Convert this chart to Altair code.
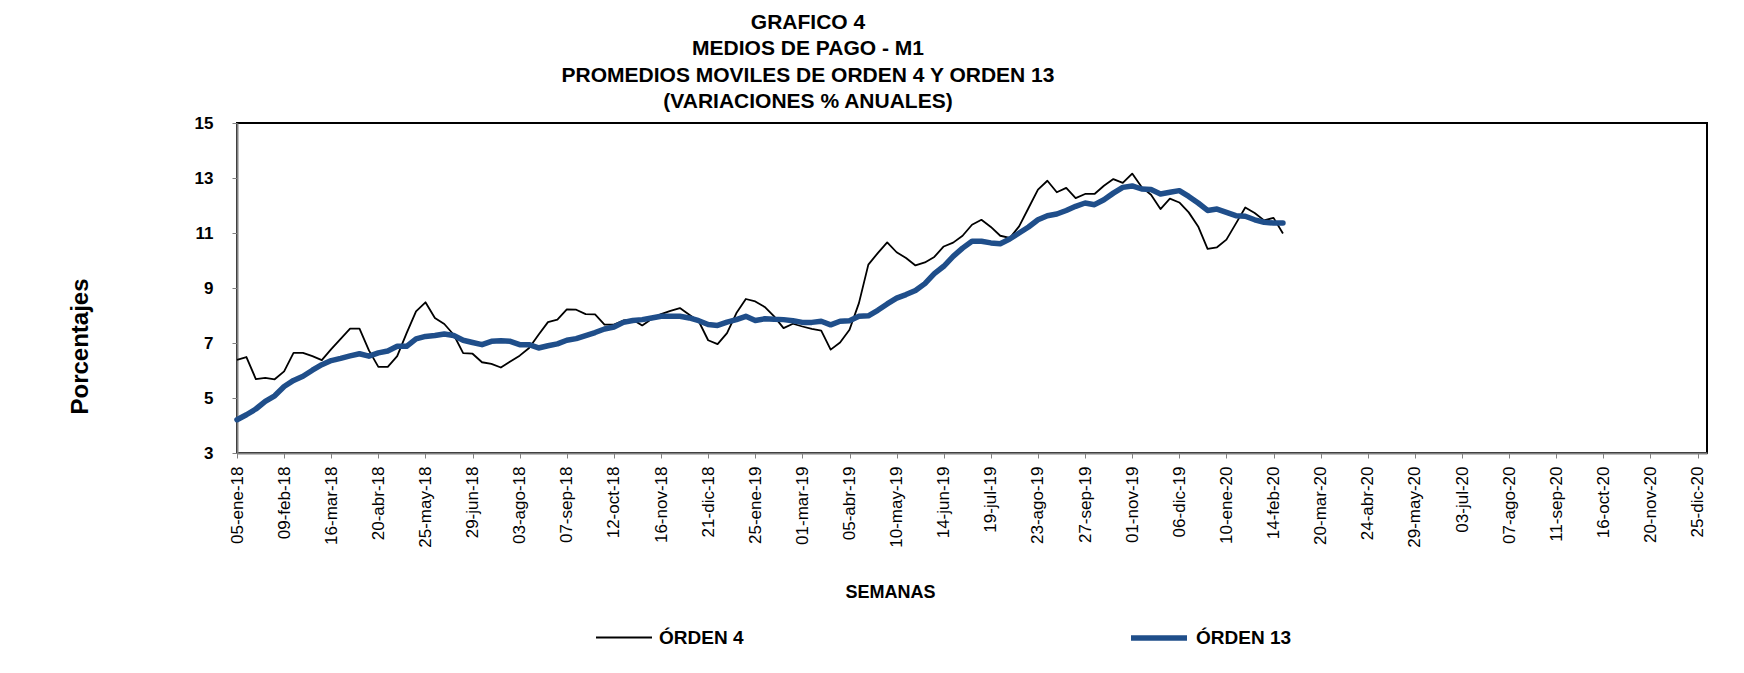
import altair as alt
import pandas as pd

# ---- data (weekly, starting 05-ene-18) ----
series_names = ["ÓRDEN 4", "ÓRDEN 13"]

orden4 = [6.39, 6.49, 5.69, 5.73, 5.68, 5.97, 6.64, 6.64, 6.52, 6.38,
          6.78, 7.15, 7.52, 7.52, 6.73, 6.13, 6.13, 6.52, 7.36, 8.15,
          8.48, 7.91, 7.69, 7.30, 6.63, 6.61, 6.30, 6.24, 6.11, 6.33,
          6.54, 6.82, 7.30, 7.76, 7.85, 8.22, 8.21, 8.05, 8.04, 7.67,
          7.67, 7.82, 7.85, 7.64, 7.87, 8.05, 8.17, 8.27, 8.03, 7.79,
          7.10, 6.96, 7.36, 8.09, 8.60, 8.51, 8.31, 7.97, 7.54, 7.70,
          7.60, 7.51, 7.45, 6.76, 7.02, 7.48, 8.45, 9.85, 10.27, 10.66,
          10.30, 10.09, 9.82, 9.93, 10.13, 10.51, 10.65, 10.90, 11.30, 11.48,
          11.22, 10.90, 10.82, 11.24, 11.91, 12.58, 12.90, 12.48, 12.64, 12.27,
          12.42, 12.42, 12.72, 12.96, 12.82, 13.16, 12.67, 12.39, 11.87, 12.25,
          12.11, 11.75, 11.24, 10.42, 10.48, 10.76, 11.34, 11.93, 11.73, 11.46,
          11.55, 10.98]

orden13 = [4.21, 4.39, 4.60, 4.88, 5.08, 5.42, 5.64, 5.79, 6.01, 6.21,
           6.36, 6.44, 6.53, 6.61, 6.52, 6.64, 6.71, 6.88, 6.88, 7.15,
           7.24, 7.27, 7.33, 7.27, 7.10, 7.02, 6.94, 7.06, 7.08, 7.06,
           6.94, 6.94, 6.82, 6.90, 6.97, 7.10, 7.16, 7.27, 7.38, 7.51,
           7.58, 7.75, 7.82, 7.85, 7.91, 7.97, 7.97, 7.97, 7.91, 7.81,
           7.67, 7.64, 7.76, 7.85, 7.97, 7.82, 7.88, 7.86, 7.85, 7.81,
           7.75, 7.75, 7.79, 7.66, 7.79, 7.81, 7.97, 7.99, 8.19, 8.42,
           8.63, 8.76, 8.91, 9.16, 9.52, 9.79, 10.15, 10.45, 10.70, 10.70,
           10.64, 10.61, 10.78, 11.00, 11.22, 11.48, 11.63, 11.69, 11.82, 11.97,
           12.09, 12.03, 12.21, 12.45, 12.66, 12.71, 12.60, 12.58, 12.42, 12.48,
           12.54, 12.33, 12.09, 11.82, 11.87, 11.75, 11.63, 11.61, 11.48, 11.39,
           11.36, 11.36]

y_ticks = [3, 5, 7, 9, 11, 13, 15]
month_names = ["ene", "feb", "mar", "abr", "may", "jun",
               "jul", "ago", "sep", "oct", "nov", "dic"]

title_lines = ["GRAFICO  4",
               "MEDIOS  DE  PAGO  -  M1",
               "PROMEDIOS  MOVILES  DE  ORDEN  4 Y ORDEN  13",
               "(VARIACIONES   % ANUALES)"]

# weekly dates of the series and axis tick dates (every 5 weeks)
dates = list(pd.date_range("2018-01-05", periods=len(orden4), freq="7D").strftime("%Y-%m-%d"))
tick_dates = pd.date_range("2018-01-05", "2020-12-25", freq="35D")
tick_values = [alt.DateTime(year=d.year, month=d.month, date=d.day, utc=True) for d in tick_dates]

df = pd.DataFrame({
    "fecha": dates + dates,
    "valor": orden4 + orden13,
    "serie": [series_names[0]] * len(orden4) + [series_names[1]] * len(orden13),
})

FONT = "Liberation Sans"
BLUE = "#1F4E8A"

months_js = "[" + ",".join("'" + m + "'" for m in month_names) + "]"
label_expr = ("utcFormat(datum.value, '%d') + '-' + " + months_js +
              "[utcmonth(datum.value)] + '-' + utcFormat(datum.value, '%y')")

legend_cfg = dict(
    orient="none", legendX=358, legendY=484, direction="horizontal",
    title=None, symbolType="stroke", symbolSize=3136,
    labelFont=FONT, labelFontSize=19, labelFontWeight="bold", labelColor="black",
    labelOffset=6, columnPadding=376,
)

x_enc = alt.X(
    "fecha:T",
    scale=alt.Scale(type="utc",
                    domain=[alt.DateTime(year=2018, month=1, date=5, utc=True),
                            alt.DateTime(year=2021, month=1, date=1, utc=True)]),
    axis=alt.Axis(
        values=tick_values, labelExpr=label_expr, labelAngle=270,
        labelAlign="right", labelBaseline="middle",
        labelFont=FONT, labelFontSize=17, labelColor="black", labelPadding=8,
        labelOverlap=False, labelFlush=False,
        tickColor="#808080", tickSize=5, domainColor="#808080", domainWidth=2,
        grid=False,
        title="SEMANAS", titleFont=FONT, titleFontSize=18, titleFontWeight="bold",
        titleColor="black", titleX=653, titleY=139, titleAlign="center",
        titleBaseline="middle",
    ),
)

y_enc = alt.Y(
    "valor:Q",
    scale=alt.Scale(domain=[3, 15], nice=False, zero=False),
    axis=alt.Axis(
        values=y_ticks, labelFont=FONT, labelFontSize=17, labelFontWeight="bold",
        labelColor="black", labelPadding=19,
        tickColor="#808080", tickSize=5, domainColor="#808080", domainWidth=2,
        grid=False,
        title="Porcentajes", titleFont=FONT, titleFontSize=24, titleFontWeight="bold",
        titleColor="black", titleAngle=270, titleX=-157, titleY=223,
        titleAlign="center", titleBaseline="middle",
    ),
)

color_enc = alt.Color("serie:N",
                      scale=alt.Scale(domain=series_names, range=["#000000", BLUE]),
                      legend=alt.Legend(**legend_cfg))
width_enc = alt.StrokeWidth("serie:N",
                            scale=alt.Scale(domain=series_names, range=[1.8, 5.5]),
                            legend=alt.Legend(**legend_cfg))

base = alt.Chart(df).encode(x=x_enc, y=y_enc, color=color_enc, strokeWidth=width_enc)

line4 = base.transform_filter(alt.datum.serie == series_names[0]).mark_line(strokeJoin="round")
line13 = base.transform_filter(alt.datum.serie == series_names[1]).mark_line(
    strokeJoin="round", strokeCap="round")

chart = alt.layer(line4, line13).properties(
    width=1470, height=330,
    autosize=alt.AutoSizeParams(type="none"),
    padding={"left": 237, "top": 123, "right": 37, "bottom": 220},
    view=alt.ViewBackground(stroke="#000000", strokeWidth=2),
    title=alt.TitleParams(
        text=title_lines, anchor="middle", dx=-164, offset=2,
        font=FONT, fontSize=21, fontWeight="bold", color="black", lineHeight=26.5,
    ),
).configure_view(stroke="#000000", strokeWidth=2).configure(background="white")

chart.save("out.html", embed_options={"renderer": "svg", "actions": False})
